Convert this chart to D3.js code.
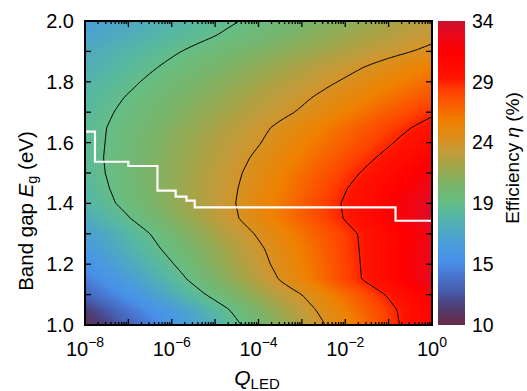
<!DOCTYPE html>
<html><head><meta charset="utf-8">
<script src="https://cdn.jsdelivr.net/npm/d3@7"></script>
<style>
body{margin:0;background:#fff}
svg{display:block}
text{font-family:"Liberation Sans",Arial,Helvetica,sans-serif;fill:#000}
</style>
</head><body>
<svg id="chart" width="527" height="391"></svg>
<script>
// ---- data ----
const qExponents = [-8, -7, -6, -5, -4, -3, -2, -1, 0];           // log10(Q_LED) columns
const bandGaps = [1.00,1.05,1.10,1.15,1.20,1.25,1.30,1.35,1.40,1.45,1.50,
                  1.55,1.60,1.65,1.70,1.75,1.80,1.85,1.90,1.95,2.00]; // rows (eV)
const efficiency = [ // % ; one row per band gap, columns follow qExponents
  [10.3, 12.9, 15.5, 18.1, 20.6, 23.0, 25.6, 28.5, 31.3],
  [11.4, 13.9, 16.3, 18.8, 21.2, 23.6, 26.1, 28.7, 31.3],
  [13.0, 15.4, 17.8, 20.1, 22.3, 24.4, 26.9, 29.4, 31.9],
  [14.2, 16.5, 18.8, 21.1, 23.3, 25.7, 28.3, 30.7, 33.2],
  [15.2, 17.4, 19.5, 21.6, 23.8, 26.0, 28.4, 30.7, 33.0],
  [16.1, 18.1, 20.1, 22.1, 24.1, 26.2, 28.5, 30.7, 32.9],
  [16.6, 18.6, 20.6, 22.6, 24.6, 26.6, 28.6, 30.7, 32.7],
  [17.6, 19.5, 21.4, 23.3, 25.3, 27.3, 29.3, 31.4, 33.5],
  [18.4, 20.1, 21.8, 23.5, 25.4, 27.4, 29.4, 31.4, 33.4],
  [18.7, 20.3, 21.9, 23.5, 25.2, 27.1, 29.1, 31.0, 32.9],
  [18.9, 20.4, 21.9, 23.4, 25.0, 26.8, 28.6, 30.4, 32.3],
  [19.0, 20.4, 21.8, 23.2, 24.7, 26.3, 28.0, 29.7, 31.5],
  [19.0, 20.3, 21.7, 23.0, 24.3, 25.9, 27.4, 29.0, 30.7],
  [19.0, 20.2, 21.5, 22.7, 24.0, 25.4, 26.9, 28.4, 29.9],
  [18.8, 20.0, 21.1, 22.3, 23.4, 24.6, 26.0, 27.5, 28.9],
  [18.6, 19.7, 20.8, 21.9, 23.0, 24.1, 25.3, 26.6, 27.9],
  [18.3, 19.3, 20.4, 21.4, 22.5, 23.5, 24.6, 25.8, 27.0],
  [17.9, 18.9, 19.9, 20.9, 21.9, 22.9, 23.9, 25.0, 26.1],
  [17.6, 18.5, 19.4, 20.3, 21.2, 22.1, 23.0, 23.9, 24.8],
  [17.0, 17.9, 18.8, 19.6, 20.5, 21.4, 22.3, 23.1, 24.0],
  [16.5, 17.4, 18.3, 19.1, 20.0, 20.9, 21.7, 22.6, 23.5]
];
const contourLevels = [19.6, 24.4, 29.2];
// optimal band gap (white step line)
const optExponents = [-8, -7.77, -7.0, -6.33, -5.91, -5.66, -5.47, -0.84, 0];
const optBandGap   = [1.636, 1.537, 1.523, 1.442, 1.422, 1.409, 1.387, 1.343, 1.343];
// colour bar
const colorStops  = [10, 11.2, 12, 12.8, 14, 15, 15.9, 17.5, 18.7, 19.8, 21, 22.2, 23, 23.8, 24.6, 26.1, 27.3, 28.5, 29.5, 31.5, 33, 34];
const colorValues = ["#6b2a45","#513a6c","#484a8c","#4760b2","#4878d2","#4890e8","#4898e2","#4ea8c2","#56b8a2","#68bd82","#78b46a","#98aa52","#b0a042","#c89a38","#d8901e","#f08000","#f86000","#ff4000","#ff1400","#ff0000","#e8081c","#c8102e"];
const colorTicks = [10, 14.8, 19.6, 24.4, 29.2, 34];
const colorTickLabels = ["10", "15", "19", "24", "29", "34"];
const xTickExponents = [-8, -6, -4, -2, 0];
const yTicks = [1.0, 1.2, 1.4, 1.6, 1.8, 2.0];

// ---- layout ----
const L = 85, T = 21, W = 347, H = 304;
const cbX = 438, cbW = 27;
const svg = d3.select("#chart");

const x = d3.scaleLog().domain([1e-8, 1]).range([0, W]);
const y = d3.scaleLinear().domain([1.0, 2.0]).range([H, 0]);
const color = d3.scaleLinear().domain(colorStops).range(colorValues).interpolate(d3.interpolateRgb).clamp(true);

// bilinear field from the read grid
const e0 = qExponents[0], eStep = qExponents[1] - qExponents[0];
const g0 = bandGaps[0], gStep = bandGaps[1] - bandGaps[0];
function field(lq, eg) {
  let fx = (lq - e0) / eStep, fy = (eg - g0) / gStep;
  fx = Math.max(0, Math.min(qExponents.length - 1.000001, fx));
  fy = Math.max(0, Math.min(bandGaps.length - 1.000001, fy));
  const i = Math.floor(fx), j = Math.floor(fy), tx = fx - i, ty = fy - j;
  const a = efficiency[j][i], b = efficiency[j][i + 1], c = efficiency[j + 1][i], d = efficiency[j + 1][i + 1];
  return (a * (1 - tx) + b * tx) * (1 - ty) + (c * (1 - tx) + d * tx) * ty;
}

// heat map image
const canvas = document.createElement("canvas");
canvas.width = W; canvas.height = H;
const ctx = canvas.getContext("2d");
const img = ctx.createImageData(W, H);
for (let py = 0; py < H; py++) {
  const eg = y.invert(py + 0.5);
  for (let px = 0; px < W; px++) {
    const lq = Math.log10(x.invert(px + 0.5));
    const c = d3.rgb(color(field(lq, eg)));
    const k = (py * W + px) * 4;
    img.data[k] = c.r; img.data[k + 1] = c.g; img.data[k + 2] = c.b; img.data[k + 3] = 255;
  }
}
ctx.putImageData(img, 0, 0);

const plot = svg.append("g").attr("transform", `translate(${L},${T})`);
plot.append("defs").append("clipPath").attr("id", "clip")
  .append("rect").attr("width", W).attr("height", H);
plot.append("image").attr("width", W).attr("height", H)
  .attr("preserveAspectRatio", "none").attr("href", canvas.toDataURL());

// contours
const nx = Math.round(W / 3), ny = Math.round(H / 3);
const grid = new Array(nx * ny);
for (let j = 0; j < ny; j++) {
  const eg = y.invert((j + 0.5) * H / ny);
  for (let i = 0; i < nx; i++) {
    grid[j * nx + i] = field(Math.log10(x.invert((i + 0.5) * W / nx)), eg);
  }
}
const contours = d3.contours().size([nx, ny]).thresholds(contourLevels)(grid);
const proj = d3.geoTransform({ point(px, py) { this.stream.point(px * W / nx, py * H / ny); } });
plot.append("g").attr("clip-path", "url(#clip)")
  .selectAll("path").data(contours).join("path")
  .attr("d", d3.geoPath(proj)).attr("fill", "none").attr("stroke", "#000").attr("stroke-width", 1);

// optimal band gap line
const optData = optExponents.map((e, i) => ({ q: Math.pow(10, e), g: optBandGap[i] }));
plot.append("path").datum(optData)
  .attr("d", d3.line().x(d => x(d.q)).y(d => y(d.g)).curve(d3.curveStepAfter))
  .attr("fill", "none").attr("stroke", "#fff").attr("stroke-width", 2.2);

// ticks (inward, all four sides)
const tickG = plot.append("g").attr("stroke", "#000").attr("stroke-width", 1.3);
const majorQ = d3.range(-8, 1).map(e => Math.pow(10, e));
const minorQ = [];
for (let e = -8; e < 0; e++) for (let m = 2; m <= 9; m++) minorQ.push(m * Math.pow(10, e));
majorQ.forEach(q => {
  tickG.append("line").attr("x1", x(q)).attr("x2", x(q)).attr("y1", H).attr("y2", H - 6);
  tickG.append("line").attr("x1", x(q)).attr("x2", x(q)).attr("y1", 0).attr("y2", 6);
});
minorQ.forEach(q => {
  tickG.append("line").attr("x1", x(q)).attr("x2", x(q)).attr("y1", H).attr("y2", H - 3);
  tickG.append("line").attr("x1", x(q)).attr("x2", x(q)).attr("y1", 0).attr("y2", 3);
});
d3.range(1.0, 2.0001, 0.1).forEach(g => {
  tickG.append("line").attr("x1", 0).attr("x2", 6).attr("y1", y(g)).attr("y2", y(g));
  tickG.append("line").attr("x1", W).attr("x2", W - 6).attr("y1", y(g)).attr("y2", y(g));
});

// frame
plot.append("rect").attr("width", W).attr("height", H)
  .attr("fill", "none").attr("stroke", "#000").attr("stroke-width", 2);

// x tick labels
const xl = plot.append("g").attr("font-size", 20);
xTickExponents.forEach(e => {
  const t = xl.append("text").attr("x", x(Math.pow(10, e))).attr("y", H + 31).attr("text-anchor", "middle");
  t.append("tspan").text("10");
  t.append("tspan").attr("font-size", 14).attr("dy", -9).text(e < 0 ? "\u2212" + (-e) : String(e));
});
// y tick labels
const yl = plot.append("g").attr("font-size", 20);
yTicks.forEach(g => {
  yl.append("text").attr("x", -11).attr("y", y(g)).attr("dy", "0.35em")
    .attr("text-anchor", "end").text(g.toFixed(1));
});

// axis titles
const xt = svg.append("text").attr("x", 257).attr("y", 385).attr("text-anchor", "middle").attr("font-size", 21);
xt.append("tspan").attr("font-style", "italic").text("Q");
xt.append("tspan").attr("font-size", 15).attr("dy", 4).text("LED");

const yt = svg.append("text").attr("transform", "translate(33,211) rotate(-90)").attr("text-anchor", "middle").attr("font-size", 20.5);
yt.append("tspan").text("Band gap ");
yt.append("tspan").attr("font-style", "italic").text("E");
yt.append("tspan").attr("font-size", 14.5).attr("dy", 4).text("g");
yt.append("tspan").attr("dy", -4).text(" (eV)");

// colour bar
const cy = d3.scaleLinear().domain([10, 34]).range([T + H, T]);
const grad = svg.append("defs").append("linearGradient").attr("id", "cbgrad")
  .attr("x1", 0).attr("y1", 1).attr("x2", 0).attr("y2", 0);
colorStops.forEach((v, i) => grad.append("stop")
  .attr("offset", (v - 10) / 24).attr("stop-color", colorValues[i]));
svg.append("rect").attr("x", cbX).attr("y", T).attr("width", cbW).attr("height", H).attr("fill", "url(#cbgrad)");
colorTicks.forEach((v, i) => {
  svg.append("text").attr("x", cbX + cbW + 7).attr("y", cy(v)).attr("dy", "0.35em")
    .attr("font-size", 19.5).text(colorTickLabels[i]);
});
const ct = svg.append("text").attr("transform", "translate(519,158) rotate(-90)").attr("text-anchor", "middle").attr("font-size", 19);
ct.append("tspan").text("Efficiency ");
ct.append("tspan").attr("font-style", "italic").text("\u03b7");
ct.append("tspan").text(" (%)");
</script>
</body></html>
